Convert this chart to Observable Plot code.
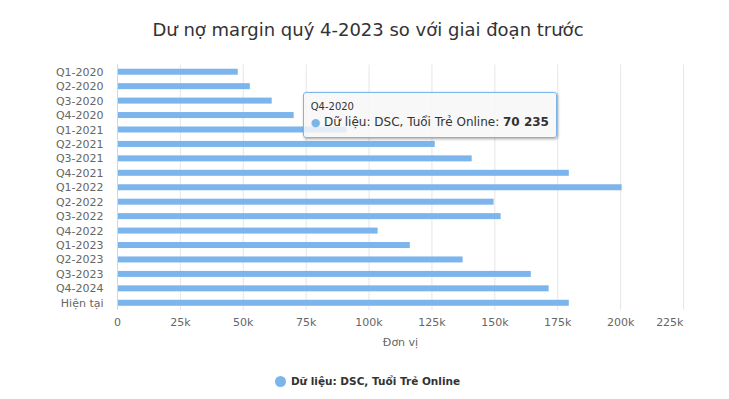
<!DOCTYPE html>
<html>
<head>
<meta charset="utf-8">
<script src="https://cdn.jsdelivr.net/npm/d3@7"></script>
<script src="https://cdn.jsdelivr.net/npm/@observablehq/plot@0.6"></script>
<style>
  body { margin: 0; background: #ffffff; font-family: "DejaVu Sans", sans-serif; }
  #wrap { position: relative; width: 729px; height: 399px; overflow: hidden; background: #fff; }
  #title { position: absolute; left: 0; top: 19px; width: 729px; text-align: center; font-size: 18px; color: #333333; line-height: 22px; padding-left: 7px; box-sizing: border-box; }
  #chart { position: absolute; left: 0; top: 56px; }
  #legend { position: absolute; left: 0; top: 372px; width: 729px; height: 18px; display: flex; justify-content: center; align-items: center; font-size: 10.5px; font-weight: bold; color: #333333; padding-left: 6px; box-sizing: border-box; }
  #legend .sym { width: 11px; height: 11px; border-radius: 50%; background: #7cb5ec; margin-right: 5px; }
  #tip { position: absolute; background: rgba(247,247,247,0.85); border: 1px solid #7cb5ec; border-radius: 3px; padding: 7px 7px 6px 7px; box-shadow: 1px 1px 3px rgba(0,0,0,0.35); color: #333333; white-space: nowrap; }
  #tip .hd { font-size: 10px; line-height: 14px; }
  #tip .bd { font-size: 12px; line-height: 17px; }
  #tip .dot { color: #7cb5ec; font-size: 11px; }
</style>
</head>
<body>
<div id="wrap">
  <div id="title"></div>
  <div id="chart"></div>
  <div id="legend"><span class="sym"></span><span id="legtext"></span></div>
  <div id="tip"></div>
</div>
<script>
const titleText = "Dư nợ margin quý 4-2023 so với giai đoạn trước";
const seriesName = "Dữ liệu: DSC, Tuổi Trẻ Online";
const axisTitle = "Đơn vị";
const categories = ["Q1-2020","Q2-2020","Q3-2020","Q4-2020","Q1-2021","Q2-2021","Q3-2021","Q4-2021","Q1-2022","Q2-2022","Q3-2022","Q4-2022","Q1-2023","Q2-2023","Q3-2023","Q4-2024","Hiện tại"];
const values = [48000, 52800, 61500, 70235, 91300, 126300, 141000, 179600, 200600, 149700, 152500, 103600, 116400, 137400, 164500, 171600, 179600];
const xTicks = [0, 25000, 50000, 75000, 100000, 125000, 150000, 175000, 200000, 225000];
const tickLabels = ["0", "25k", "50k", "75k", "100k", "125k", "150k", "175k", "200k", "225k"];
const tipIndex = 3;

const data = categories.map((c, i) => ({cat: c, value: values[i]}));
const ticks = xTicks.map((t, i) => ({t, label: tickLabels[i]}));
const barColor = "#7cb5ec";

document.getElementById("title").textContent = titleText;
document.getElementById("legtext").textContent = seriesName;

const plotTop = 8.5, plotH = 245.5, nCat = categories.length;
const step = plotH / nCat, barH = 6, inset = (step - barH) / 2;

const chart = Plot.plot({
  width: 729,
  height: 304,
  marginLeft: 117,
  marginRight: 46,
  marginTop: plotTop,
  marginBottom: 304 - plotTop - plotH,
  style: {fontFamily: "DejaVu Sans, sans-serif", fontSize: "11px", color: "#666666", background: "transparent"},
  x: {domain: [0, 225000], axis: null},
  y: {domain: categories, padding: 0, round: false, axis: null},
  marks: [
    Plot.ruleX(ticks.slice(1), {x: "t", stroke: "#e6e6e6", strokeWidth: 1}),
    Plot.barX(data, {x: "value", y: "cat", fill: barColor, insetTop: inset, insetBottom: inset}),
    Plot.ruleX([0], {stroke: "#ccd6eb", strokeWidth: 1}),
    Plot.axisY({tickSize: 0, tickPadding: 14, fontSize: 11, fill: "#666666", label: null}),
    Plot.text(ticks.slice(0, -1), {x: "t", text: "label", frameAnchor: "bottom", dy: 15, fill: "#666666", fontSize: 11}),
    Plot.text(ticks.slice(-1), {x: "t", text: "label", frameAnchor: "bottom", dy: 15, textAnchor: "end", fill: "#666666", fontSize: 11}),
    Plot.text([axisTitle], {text: d => d, frameAnchor: "bottom", dy: 35, fill: "#666666", fontSize: 11})
  ]
});
document.getElementById("chart").appendChild(chart);

// tooltip for the hovered point
const xs = chart.scale("x"), ys = chart.scale("y");
const tp = data[tipIndex];
const fmt = v => d3.format(",")(v).replace(/,/g, " ");
const tip = document.getElementById("tip");
tip.innerHTML = `<div class="hd"></div><div class="bd"><span class="dot">●</span> <span class="nm"></span>: <b class="val"></b></div>`;
tip.querySelector(".hd").textContent = tp.cat;
tip.querySelector(".nm").textContent = seriesName;
tip.querySelector(".val").textContent = fmt(tp.value);
const cy = 56 + ys.apply(tp.cat) + ys.bandwidth / 2;
tip.style.left = (xs.apply(tp.value) + 9) + "px";
tip.style.top = (cy - 23) + "px";
</script>
</body>
</html>
